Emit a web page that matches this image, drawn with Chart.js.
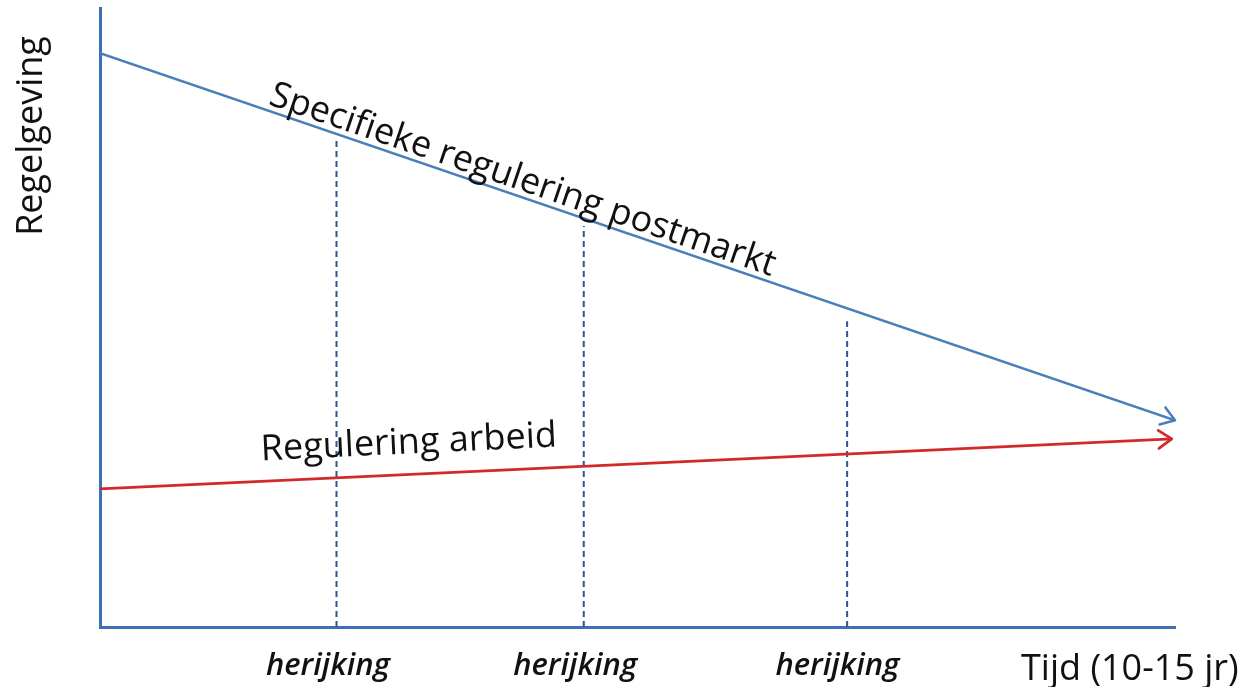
<!DOCTYPE html>
<html>
<head>
<meta charset="utf-8">
<script src="https://cdn.jsdelivr.net/npm/chart.js@4.4.1/dist/chart.umd.min.js"></script>
<style>
  html, body { margin: 0; padding: 0; background: #fff; }
  #wrap { width: 1249px; height: 687px; position: relative; }
</style>
</head>
<body>
<div id="wrap"><canvas id="regelChart"></canvas></div>
<script>
// tijd-as (0 = start, 100 = einde periode)
const tijd = [0, 100];
// regelgeving-niveau aan begin en eind
const postmarkt = [92.7, 33.4];
const arbeid = [22.3, 30.4];
const arbeidEnd = 99.7;

// herijkingsmomenten + hoogte waar de stippellijn begint
const herijkingX = [22, 45, 69.5];
const herijkingTop = [78.7, 64.8, 49.4];

// labels onder de x-as
const tickX = [21.2, 44.2, 68.6, 95.8];
const tickLabels = ["herijking", "herijking", "herijking", "Tijd (10-15 jr)"];

const blauw = "#4a7ebb";
const rood = "#d02a2a";
const asKleur = "#3f6fb6";
const stippel = "#2e5597";

// datasets opbouwen
const datasets = [
    {
        label: "Specifieke regulering postmarkt",
        data: tijd.map((x, i) => ({ x: x, y: postmarkt[i] })),
        borderColor: blauw,
        borderWidth: 2.5,
        arrow: true,
        tekst: { van: 15.4, offset: -6 }
    },
    {
        label: "Regulering arbeid",
        data: [{ x: tijd[0], y: arbeid[0] }, { x: arbeidEnd, y: arbeid[1] }],
        borderColor: rood,
        borderWidth: 2.8,
        arrow: true,
        tekst: { van: 15.1, offset: -21 }
    }
];

herijkingX.forEach((x, i) => {
    datasets.push({
        label: "herijking " + (i + 1),
        data: [{ x: x, y: 0 }, { x: x, y: herijkingTop[i] }],
        borderColor: stippel,
        borderWidth: 2,
        borderDash: [6, 4]
    });
});

// pijlpunten + teksten langs de lijnen
const annotatiePlugin = {
    id: "annotaties",
    afterDatasetsDraw(chart) {
        const ctx = chart.ctx;
        chart.data.datasets.forEach((ds, i) => {
            const pts = chart.getDatasetMeta(i).data;
            if (!ds.arrow || pts.length < 2) return;
            const p0 = pts[0], p1 = pts[pts.length - 1];
            const hoek = Math.atan2(p1.y - p0.y, p1.x - p0.x);

            // pijlpunt (open)
            ctx.save();
            ctx.strokeStyle = ds.borderColor;
            ctx.lineWidth = ds.borderWidth;
            ctx.lineCap = "round";
            ctx.lineJoin = "round";
            ctx.beginPath();
            const len = 16;
            ctx.moveTo(p1.x - len * Math.cos(hoek - 0.6), p1.y - len * Math.sin(hoek - 0.6));
            ctx.lineTo(p1.x, p1.y);
            ctx.lineTo(p1.x - len * Math.cos(hoek + 0.6), p1.y - len * Math.sin(hoek + 0.6));
            ctx.stroke();
            ctx.restore();

            // tekst langs de lijn
            const px = chart.scales.x.getPixelForValue(ds.tekst.van);
            const t = (px - p0.x) / (p1.x - p0.x);
            const py = p0.y + t * (p1.y - p0.y);
            ctx.save();
            ctx.translate(px, py);
            ctx.rotate(hoek);
            ctx.font = "36px 'Open Sans'";
            ctx.fillStyle = "#111";
            ctx.textAlign = "left";
            ctx.textBaseline = "alphabetic";
            ctx.fillText(ds.label, 0, ds.tekst.offset);
            ctx.restore();
        });

        // y-as titel
        ctx.save();
        ctx.translate(32, 136);
        ctx.rotate(-Math.PI / 2);
        ctx.font = "36px 'Open Sans'";
        ctx.fillStyle = "#111";
        ctx.textAlign = "center";
        ctx.textBaseline = "middle";
        ctx.fillText("Regelgeving", 0, 0);
        ctx.restore();
    }
};

new Chart(document.getElementById("regelChart"), {
    type: "line",
    data: { datasets: datasets },
    options: {
        responsive: true,
        maintainAspectRatio: false,
        animation: false,
        layout: { padding: { left: 100, right: 74, top: 8, bottom: 0 } },
        elements: { point: { radius: 0 }, line: { tension: 0 } },
        plugins: { legend: { display: false }, tooltip: { enabled: false } },
        scales: {
            x: {
                type: "linear",
                min: 0,
                max: 100,
                grid: { display: false, drawTicks: false },
                border: { display: true, color: asKleur, width: 3 },
                afterBuildTicks: (scale) => {
                    scale.ticks = tickX.map(v => ({ value: v }));
                },
                afterFit: (scale) => {
                    scale.height = 60;
                    // labels mogen buiten het plotvlak uitsteken
                    scale.paddingLeft = 0;
                    scale.paddingRight = 0;
                },
                ticks: {
                    autoSkip: false,
                    maxRotation: 0,
                    padding: 21,
                    color: "#111",
                    callback: (value, index) => tickLabels[index],
                    font: (c) => c.index === 3
                        ? { family: "'Open Sans'", size: 36, style: "normal", weight: "normal" }
                        : { family: "'Open Sans'", size: 31, style: "italic", weight: "600" }
                }
            },
            y: {
                type: "linear",
                min: 0,
                max: 100,
                grid: { display: false, drawTicks: false },
                border: { display: true, color: asKleur, width: 3 },
                ticks: { display: false },
                afterFit: (scale) => { scale.width = 0; }
            }
        }
    },
    plugins: [annotatiePlugin]
});
</script>
</body>
</html>
